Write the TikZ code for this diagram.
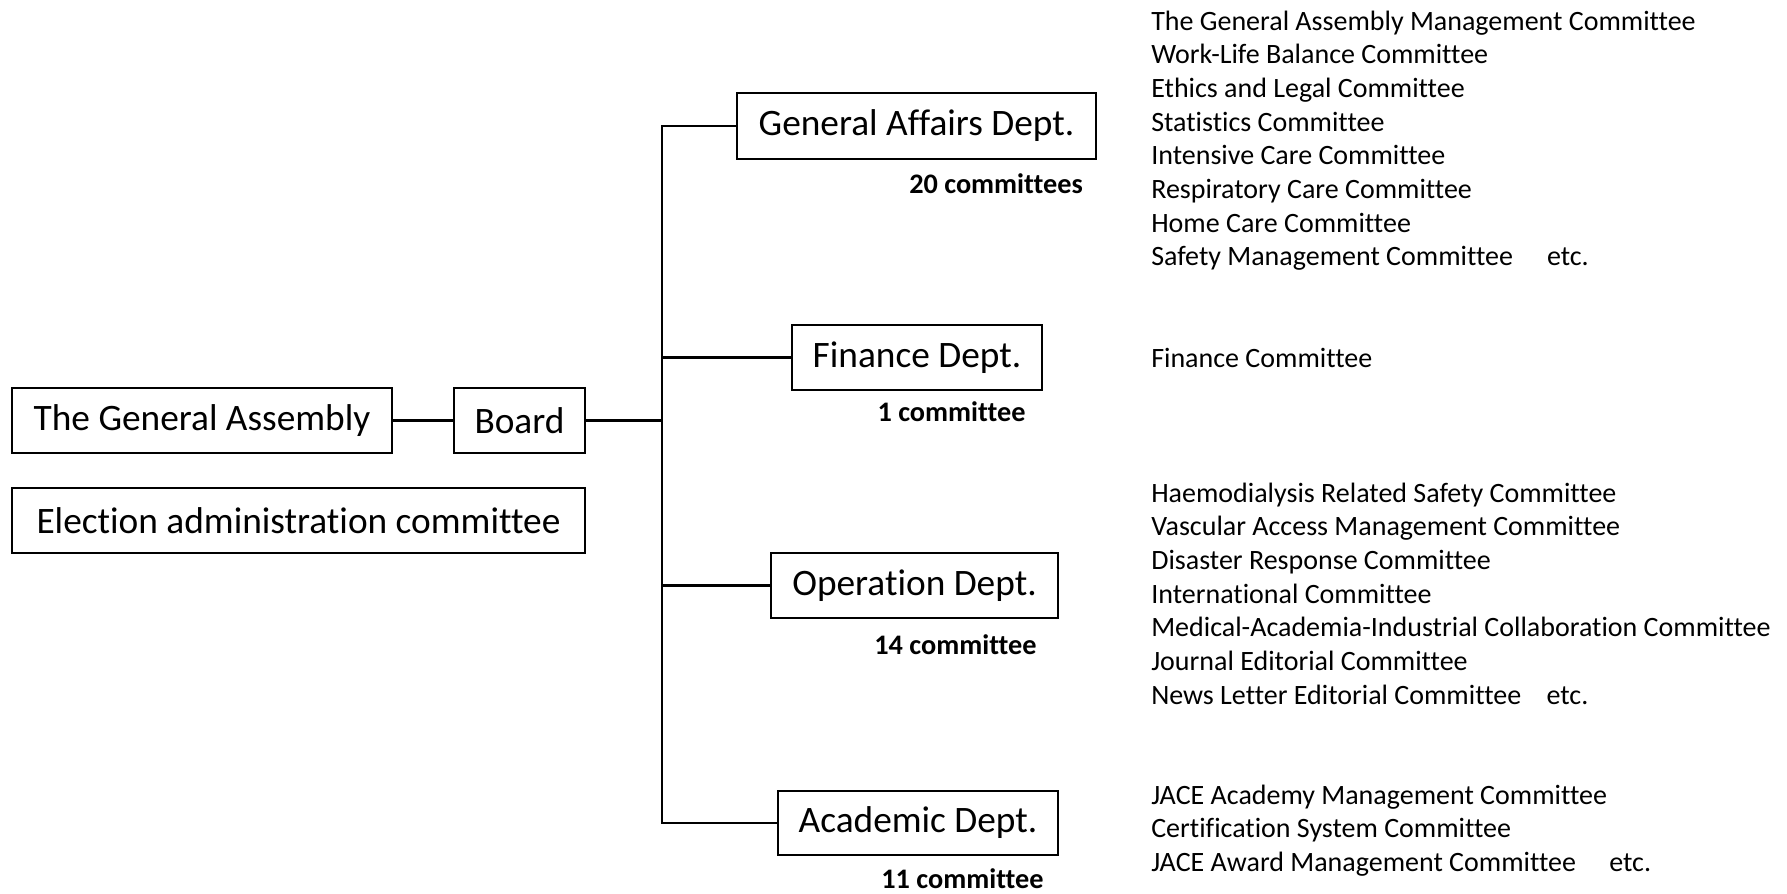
\documentclass[tikz,border=0pt]{standalone}
\usepackage{fontspec}
\setmainfont{Carlito}[Ligatures=NoCommon]
\begin{document}
\begin{tikzpicture}[x=0.75pt,y=-0.75pt,
  box/.style={draw,line width=2pt,inner sep=0pt,font=\fontsize{28}{34}\selectfont},
  cnt/.style={font=\bfseries\fontsize{21.2}{25}\selectfont,anchor=base,inner sep=0pt},
  item/.style={font=\fontsize{21}{25}\selectfont,anchor=base west,inner sep=0pt},
  link/.style={line width=2pt,line cap=rect,line join=miter}]
\useasboundingbox (0,0) rectangle (1787,893);
% left column
\node[box,minimum width=285pt,minimum height=48.75pt] (ga) at (202,420.5) {The General Assembly};
\node[box,minimum width=98.25pt,minimum height=48.75pt] (board) at (519.5,420.5) {Board};
\node[box,minimum width=429.75pt,minimum height=48.75pt] (elec) at (298.5,520.5) {Election administration committee};
% departments
\node[box,minimum width=269.25pt,minimum height=49.5pt] (gad) at (916.5,126) {General Affairs Dept.};
\node[box,minimum width=187.5pt,minimum height=48.75pt] (fin) at (917,357.5) {Finance Dept.};
\node[box,minimum width=215.25pt,minimum height=48.75pt] (op) at (914.5,585.5) {Operation Dept.};
\node[box,minimum width=210pt,minimum height=48pt] (acad) at (918,823) {Academic Dept.};
% connectors
\coordinate (ttop) at (662,126);
\coordinate (tbot) at (662,823);
\draw[link] (ga.east) -- (board.west);
\draw[link] (board.east) -- (board.east -| ttop);
\draw[link] (gad.west) -- (ttop) -- (tbot) -- (acad.west);
\draw[link] (fin.west) -- (fin.west -| ttop);
\draw[link] (op.west) -- (op.west -| ttop);
% counts
\node[cnt] (c1) at (996,193) {20 committees};
\node[cnt] (c2) at (951.5,421) {1 committee};
\node[cnt] (c3) at (955.5,654) {14 committee};
\node[cnt] (c4) at (962.5,888) {11 committee};
% committee lists
\foreach \t [count=\i from 0] in {The General Assembly Management Committee,Work-Life Balance Committee,Ethics and Legal Committee,Statistics Committee,Intensive Care Committee,Respiratory Care Committee,Home Care Committee,Safety Management Committee\hspace{25.5pt}etc.}
  \node[item] (ga-\i) at (1151,30+33.7*\i) {\t};
\node[item] (fin-0) at (1151,367) {Finance Committee};
\foreach \t [count=\i from 0] in {Haemodialysis Related Safety Committee,Vascular Access Management Committee,Disaster Response Committee,International Committee,Medical-Academia-Industrial Collaboration Committee,Journal Editorial Committee,News Letter Editorial Committee\hspace{19pt}etc.}
  \node[item] (op-\i) at (1151,502+33.7*\i) {\t};
\foreach \t [count=\i from 0] in {JACE Academy Management Committee,Certification System Committee,JACE Award Management Committee\hspace{25pt}etc.}
  \node[item] (ac-\i) at (1151,804+33.7*\i) {\t};
\end{tikzpicture}
\end{document}
